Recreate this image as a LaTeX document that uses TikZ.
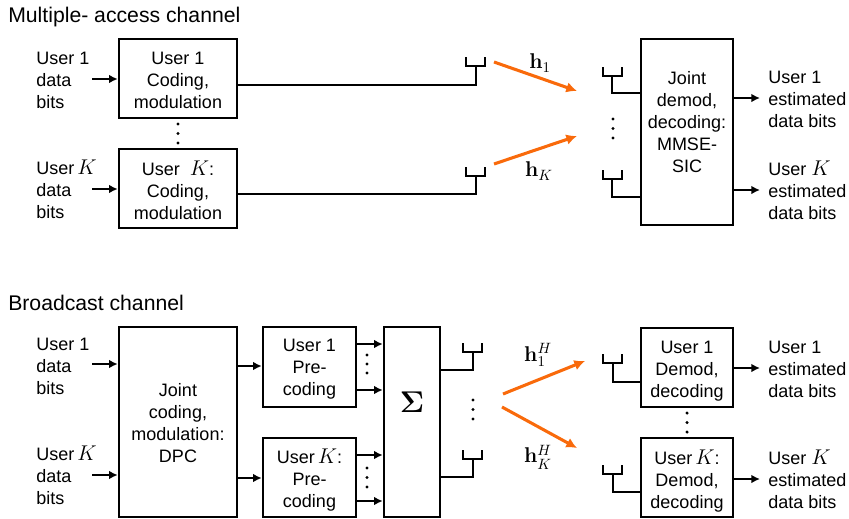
\documentclass[tikz,border=0pt]{standalone}
\usepackage{fix-cm}
\usepackage{amsmath}
\usepackage[no-math]{fontspec}
\setmainfont{Liberation Sans}
\usetikzlibrary{arrows.meta,calc}
\definecolor{chorange}{HTML}{F96A0B}
\newcommand{\KK}{{\fontsize{16}{16}\selectfont$K$}}
\tikzset{
  pxbox/.style 2 args={draw=black,line width=1.9pt,fill=white,inner sep=0pt,align=center,
    font=\fontsize{13.5}{16.5}\selectfont,
    minimum width=#1*0.75pt,minimum height=#2*0.75pt},
  txt/.style={align=left,anchor=west,inner sep=0pt,font=\fontsize{13.5}{16.5}\selectfont},
  boxtxt/.style={align=center,inner sep=0pt,font=\fontsize{13.5}{16.5}\selectfont},
  title/.style={anchor=west,inner sep=0pt,font=\fontsize{15.9}{18}\selectfont},
  wire/.style={draw=black,line width=1.5pt,line join=miter},
  arr/.style={wire,-{Latex[length=6.5pt,width=6.5pt]}},
  oarr/.style={draw=chorange,line width=2.3pt,-{Latex[length=8pt,width=8pt]}},
  dotn/.style={circle,fill=black,inner sep=0pt,minimum size=2.6pt},
  mlab/.style={inner sep=0pt,font=\fontsize{16}{18}\selectfont}
}
% \antfork{name}{stem x}{top y}{half width}: fork whose crossing is coordinate (name)
\newcommand{\antfork}[4]{%
  \coordinate (#1) at (#2,#3+9);
  \draw[wire,line cap=butt] (#2-#4,#3) -- (#2-#4,#3+9) -- (#2+#4,#3+9) -- (#2+#4,#3);}
\newcommand{\vdotset}[5]{%
  \node[dotn] (#1a) at (#2,#3) {};
  \node[dotn] (#1b) at (#2,#4) {};
  \node[dotn] (#1c) at (#2,#5) {};}
\begin{document}
\begin{tikzpicture}[x=0.75pt,y=-0.75pt]
\useasboundingbox (0,0) rectangle (849,518);
% titles
\node[title] (t1) at (8,17) {Multiple- access channel};
\node[title] (t2) at (8,303) {Broadcast channel};

% ===== Multiple-access channel =====
\node[txt] (u1) at (36,80) {User 1\\data\\bits};
\node[txt] (uk) at (36,189) {User\,\KK\\data\\bits};
\node[pxbox={118}{79}] (c1) at (178,78.5) {};
\node[boxtxt] (c1t) at (178,80.5) {User 1\\Coding,\\modulation};
\node[pxbox={118}{79}] (ck) at (178,188.5) {};
\node[boxtxt] (ckt) at (178,190.5) {User\ \ \KK:\\Coding,\\modulation};
\coordinate (u1a) at (92,79);
\coordinate (uka) at (92,189);
\draw[arr] (u1a) -- (u1a -| c1.west);
\draw[arr] (uka) -- (uka -| ck.west);
\vdotset{d1}{178}{124}{133.5}{143}

\antfork{ta1}{475.5}{57}{9.5}
\antfork{tak}{475.5}{167}{9.5}
\coordinate (ta1b) at (475.5,85);
\coordinate (takb) at (475.5,194);
\draw[wire] (c1.east |- ta1b) -- (ta1b) -- (ta1);
\draw[wire] (ck.east |- takb) -- (takb) -- (tak);

\coordinate (o1s) at (494,62);
\coordinate (o1e) at (577,91);
\coordinate (oks) at (494,164);
\coordinate (oke) at (577,136);
\draw[oarr] (o1s) -- (o1e);
\draw[oarr] (oks) -- (oke);
\node[mlab] (h1) at (540,63) {$\mathbf{h}_1$};
\node[mlab] (hk) at (539,171) {$\mathbf{h}_K$};

\node[pxbox={92}{186}] (jd) at (687,132) {};
\node[boxtxt] (jdt) at (687,122) {Joint\\demod,\\decoding:\\MMSE-\\SIC};
\antfork{ra1}{612}{67}{9.5}
\antfork{rak}{612}{170}{9.5}
\coordinate (ra1b) at (612,93);
\coordinate (rakb) at (612,197);
\draw[wire] (ra1) -- (ra1b) -- (ra1b -| jd.west);
\draw[wire] (rak) -- (rakb) -- (rakb -| jd.west);
\vdotset{d2}{613}{119}{128.5}{138}

\coordinate (e1a) at (760,98);
\coordinate (eka) at (760,190);
\draw[arr] (e1a -| jd.east) -- (e1a);
\draw[arr] (eka -| jd.east) -- (eka);
\node[txt] (e1) at (768,99) {User 1\\estimated\\data bits};
\node[txt] (ek) at (768,190) {User \KK\\estimated\\data bits};

% ===== Broadcast channel =====
\node[txt] (bu1) at (36,366) {User 1\\data\\bits};
\node[txt] (buk) at (36,475) {User\,\KK\\data\\bits};
\node[pxbox={118}{190}] (jc) at (178,422) {};
\node[boxtxt] (jct) at (178,423) {Joint\\coding,\\modulation:\\DPC};
\coordinate (bu1a) at (92,364);
\coordinate (buka) at (92,475);
\draw[arr] (bu1a) -- (bu1a -| jc.west);
\draw[arr] (buka) -- (buka -| jc.west);

\node[pxbox={93}{80}] (p1) at (309.5,367) {};
\node[boxtxt] (p1t) at (309.5,369.5) {User 1\\Pre-\\coding};
\node[pxbox={93}{79}] (pk) at (309.5,477.5) {};
\node[boxtxt] (pkt) at (309.5,480.5) {User\,\KK:\\Pre-\\coding};
\coordinate (l1) at (237,366);
\coordinate (l2) at (237,478);
\node[pxbox={56}{190}] (sg) at (412,422) {};
\node[boxtxt] (sgt) at (412,402) {\fontsize{22.5}{25}\selectfont$\boldsymbol{\Sigma}$};
\draw[arr] (jc.east |- l1) -- (p1.west |- l1);
\draw[arr] (jc.east |- l2) -- (pk.west |- l2);
\coordinate (s1) at (356,344);
\coordinate (s2) at (356,390);
\coordinate (s3) at (356,455);
\coordinate (s4) at (356,501);
\draw[arr] (s1) -- (s1 -| sg.west);
\draw[arr] (s2) -- (s2 -| sg.west);
\draw[arr] (s3) -- (s3 -| sg.west);
\draw[arr] (s4) -- (s4 -| sg.west);
\vdotset{d3}{367}{355}{364}{373}
\vdotset{d4}{367}{468}{477.5}{487}

\antfork{bta1}{472.5}{343}{9.5}
\antfork{btak}{472.5}{450}{9.5}
\coordinate (bta1b) at (472.5,370);
\coordinate (btakb) at (472.5,477);
\draw[wire] (sg.east |- bta1b) -- (bta1b) -- (bta1);
\draw[wire] (sg.east |- btakb) -- (btakb) -- (btak);
\vdotset{d5}{473}{400}{409.5}{419}

\coordinate (bo1s) at (503,394);
\coordinate (bo1e) at (585,361);
\coordinate (boks) at (502,407);
\coordinate (boke) at (577,448);
\draw[oarr] (bo1s) -- (bo1e);
\draw[oarr] (boks) -- (boke);
\node[mlab] (bh1) at (538,355) {$\mathbf{h}_1^H$};
\node[mlab] (bhk) at (538,457) {$\mathbf{h}_K^H$};

\node[pxbox={92}{79}] (dm1) at (687,367.5) {};
\node[boxtxt] (dm1t) at (687,371) {User 1\\Demod,\\decoding};
\node[pxbox={92}{79}] (dmk) at (687,477.5) {};
\node[boxtxt] (dmkt) at (687,481) {User\,\KK:\\Demod,\\decoding};
\vdotset{d6}{687}{413}{422.5}{432}
\antfork{bra1}{612.5}{354}{9.5}
\antfork{brak}{612.5}{465}{9.5}
\coordinate (bra1b) at (612.5,382);
\coordinate (brakb) at (612.5,492);
\draw[wire] (bra1) -- (bra1b) -- (bra1b -| dm1.west);
\draw[wire] (brak) -- (brakb) -- (brakb -| dmk.west);

\coordinate (be1a) at (760,368);
\coordinate (beka) at (760,479);
\draw[arr] (be1a -| dm1.east) -- (be1a);
\draw[arr] (beka -| dmk.east) -- (beka);
\node[txt] (be1) at (768,369) {User 1\\estimated\\data bits};
\node[txt] (bek) at (768,479) {User \KK\\estimated\\data bits};
\end{tikzpicture}
\end{document}
